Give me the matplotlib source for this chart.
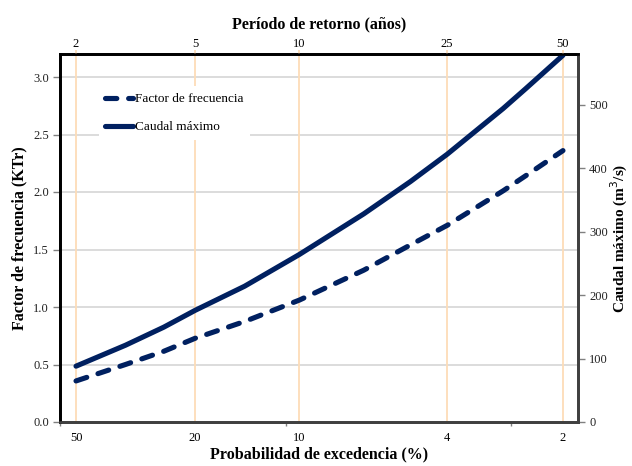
import numpy as np
from matplotlib import pyplot as plt
from matplotlib.lines import Line2D

# return period (years) and values
periodo = [2, 3, 4, 5, 7, 10, 15, 20, 25, 35, 40, 50]
factor_k = [0.357, 0.50, 0.615, 0.728, 0.874, 1.06, 1.32, 1.54, 1.71, 2.01, 2.14, 2.36]
caudal = [88, 121, 149.5, 176, 214, 264, 328, 379, 422, 494, 525, 578]

top_ticks = [2, 5, 10, 25, 50]
top_labels = ["2", "5", "10", "25", "50"]
bottom_labels = ["50", "20", "10", "4", "2"]
left_ticks = [0.0, 0.5, 1.0, 1.5, 2.0, 2.5, 3.0]
right_ticks = [0, 100, 200, 300, 400, 500]

NAVY = "#002060"
PEACH = "#FDDCB8"
GRID = "#D9D9D9"

plt.rcParams['font.family'] = ['Liberation Serif', 'DejaVu Serif']


def fwd(t):
    t = np.asarray(t, dtype=float)
    return np.log10(np.maximum(t + 1.0, 1e-9))


def inv(x):
    return 10.0 ** np.asarray(x, dtype=float) - 1.0


XLIM = (1.733, 54.66)

fig = plt.figure(figsize=(6.32, 4.66), dpi=100)
ax = fig.add_axes([60 / 632, 44 / 466, 518 / 632, 368 / 466])
ax.set_xscale('function', functions=(fwd, inv))
ax.set_xlim(*XLIM)
ax.set_ylim(0, 3.2)

# grid
ax.set_yticks(left_ticks)
ax.set_yticklabels(["%.1f" % v for v in left_ticks])
for v in left_ticks[1:]:
    ax.axhline(v, color=GRID, lw=1.3, zorder=0)
for t in top_ticks:
    ax.axvline(t, color=PEACH, lw=1.3, zorder=0)

ax.plot(periodo, factor_k, color=NAVY, lw=3.7, dashes=(2.2, 2.3),
        dash_capstyle='round', solid_capstyle='round', zorder=3)

ax.set_xticks(top_ticks)
ax.set_xticklabels(bottom_labels)
ax.set_xticks([1.733, 9.15, 36.7], minor=True)
ax.tick_params(axis='x', which='major', length=0, pad=7, labelsize=9)
ax.tick_params(axis='x', which='minor', length=3, width=1, color='#808080')
ax.tick_params(axis='y', length=5, width=1, color='#808080', pad=3,
               labelsize=9, labelcolor='#222222')
ax.set_xlabel("Probabilidad de excedencia (%)", fontsize=11.5,
              fontweight='bold', labelpad=2)
ax.set_ylabel("Factor de frecuencia (KTr)", fontsize=11.5,
              fontweight='bold', labelpad=4)

# right axis for flow
ax2 = ax.twinx()
ax2.set_ylim(0, 580)
ax2.set_yticks(right_ticks)
ax2.plot(periodo, caudal, color=NAVY, lw=3.7, solid_capstyle='round',
         zorder=3)
ax2.tick_params(axis='y', length=5, width=1, color='#808080', pad=3,
                labelsize=9, labelcolor='#222222')
ax2.set_ylabel("Caudal máximo (m$^3$/s)", fontsize=11, fontweight='bold',
               labelpad=1)

# top axis, return period
ax3 = ax.twiny()
ax3.set_xscale('function', functions=(fwd, inv))
ax3.set_xlim(*XLIM)
ax3.set_xticks(top_ticks)
ax3.set_xticklabels(top_labels)
ax3.xaxis.set_minor_locator(plt.NullLocator())
ax3.tick_params(axis='x', length=3, width=1.3, color=PEACH, pad=0,
                labelsize=9)
ax3.set_xlabel("Período de retorno (años)", fontsize=11.5,
               fontweight='bold', labelpad=7)

for a in (ax, ax2, ax3):
    for side in ('left', 'top'):
        a.spines[side].set_color('black')
        a.spines[side].set_linewidth(1.8)
    for side in ('right', 'bottom'):
        a.spines[side].set_color('#404040')
        a.spines[side].set_linewidth(1.8)

handles = [
    Line2D([], [], color=NAVY, lw=3.7, dashes=(2.2, 2.3),
           dash_capstyle='round'),
    Line2D([], [], color=NAVY, lw=3.7, solid_capstyle='round'),
]
leg = ax3.legend(handles, ["Factor de frecuencia", "Caudal máximo"],
                 loc='upper left', bbox_to_anchor=(0.062, 0.93),
                 fontsize=9.5, frameon=True, fancybox=False,
                 handlelength=2.1, handletextpad=0.15, labelspacing=1.2,
                 borderpad=0.5)
leg.get_frame().set_facecolor('white')
leg.get_frame().set_edgecolor('none')
leg.get_frame().set_alpha(1)

plt.savefig("out.png", dpi=100)
